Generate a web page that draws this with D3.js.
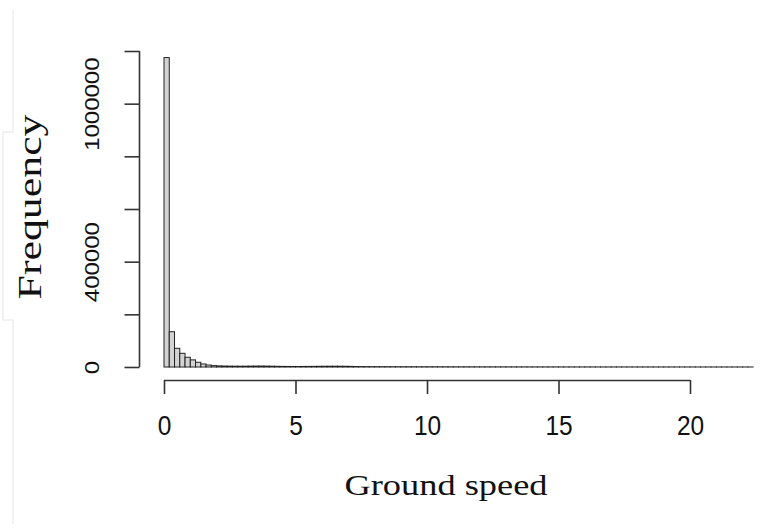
<!DOCTYPE html>
<html>
<head>
<meta charset="utf-8">
<script src="https://cdn.jsdelivr.net/npm/d3@7"></script>
<style>
  html, body { margin: 0; padding: 0; background: #fff; }
  svg { display: block; }
</style>
</head>
<body>
<svg id="chart" width="767" height="529"></svg>
<script>
// ---- data ----
const binWidth = 0.2;
const binStarts = d3.range(0, 112).map(i => +(i * binWidth).toFixed(1));
const counts = [
  1175000, 134000, 71000, 52000, 37000, 27000, 18000, 11500, 7500, 5200,
  4200, 3600, 3200, 3000, 3000, 3100, 3300, 3500, 3600, 3400,
  3000, 2600, 2300, 2100, 2000, 2000, 2100, 2200, 2400, 2600,
  2800, 2900, 3000, 2900, 2700, 2300, 1900, 1600, 1400, 1300,
  1200, 1150, 1100, 1050, 1000, 980, 950, 920, 900, 880,
  850, 820, 800, 780, 750, 720, 700, 680, 650, 620,
  600, 580, 560, 540, 520, 500, 480, 460, 440, 420,
  400, 390, 380, 370, 360, 350, 340, 330, 320, 310,
  300, 290, 280, 270, 260, 250, 240, 230, 220, 210,
  200, 195, 190, 185, 180, 175, 170, 165, 160, 155,
  150, 145, 140, 135, 130, 125, 120, 115, 110, 105,
  100, 100
];
const xTicks = [0, 5, 10, 15, 20];
const xTickLabels = ["0", "5", "10", "15", "20"];
const yTicks = [0, 200000, 400000, 600000, 800000, 1000000, 1200000];
const yTickLabels = ["0", "", "400000", "", "", "1000000", ""];
const xTitle = "Ground speed";
const yTitle = "Frequency";

// ---- layout ----
const svg = d3.select("#chart");
const x = d3.scaleLinear().domain([0, 20]).range([164, 690]);
const y = d3.scaleLinear().domain([0, 1200000]).range([367, 51]);

// faint background frame artifact
svg.append("path")
  .attr("d", "M13,10V132H3V320H13V524")
  .attr("fill", "none")
  .attr("stroke", "#e4e4e4")
  .attr("stroke-width", 1);

// bars
svg.append("g").selectAll("rect")
  .data(counts.map((c, i) => ({ x0: binStarts[i], c })))
  .join("rect")
  .attr("x", d => x(d.x0))
  .attr("y", d => y(d.c))
  .attr("width", d => x(d.x0 + binWidth) - x(d.x0))
  .attr("height", d => y(0) - y(d.c))
  .attr("fill", "#d3d3d3")
  .attr("stroke", "#222")
  .attr("stroke-width", 1);

// x axis
const xAxis = d3.axisBottom(x).tickValues(xTicks).tickSize(14).tickFormat(() => "");
const gx = svg.append("g").attr("transform", "translate(0,380)").call(xAxis);
gx.select(".domain").attr("stroke", "#333").attr("stroke-width", 1.6).attr("d", `M${x(0)},0.5H${x(20)}`);
gx.selectAll(".tick line").attr("stroke", "#333").attr("stroke-width", 1.6);
gx.selectAll(".tick").append("text")
  .attr("fill", "#111")
  .attr("text-anchor", "middle")
  .attr("font-family", "Liberation Sans, Arial, sans-serif")
  .attr("font-size", 24.5)
  .attr("transform", "translate(0,55) scale(1,1.15)")
  .text((d, i) => xTickLabels[i]);

// y axis
const yAxis = d3.axisLeft(y).tickValues(yTicks).tickSize(15).tickFormat(() => "");
const gy = svg.append("g").attr("transform", "translate(139.5,0)").call(yAxis);
gy.select(".domain").attr("stroke", "#333").attr("stroke-width", 1.6).attr("d", `M0,${y(0)}V${y(1200000)}`);
gy.selectAll(".tick line").attr("stroke", "#333").attr("stroke-width", 1.6);
gy.selectAll(".tick").append("text")
  .attr("fill", "#111")
  .attr("text-anchor", "middle")
  .attr("font-family", "Liberation Sans, Arial, sans-serif")
  .attr("font-size", 19.5)
  .attr("transform", "translate(-40.5,0) scale(1,1.23) rotate(-90)")
  .text((d, i) => yTickLabels[i]);

// axis titles
svg.append("text")
  .attr("x", 446).attr("y", 495)
  .attr("text-anchor", "middle")
  .attr("font-family", "Liberation Serif, Times New Roman, serif")
  .attr("font-size", 30)
  .attr("fill", "#111")
  .attr("textLength", 203)
  .attr("lengthAdjust", "spacingAndGlyphs")
  .text(xTitle);

svg.append("text")
  .attr("transform", "translate(41,207) rotate(-90)")
  .attr("text-anchor", "middle")
  .attr("font-family", "Liberation Serif, Times New Roman, serif")
  .attr("font-size", 33)
  .attr("fill", "#111")
  .attr("textLength", 185)
  .attr("lengthAdjust", "spacingAndGlyphs")
  .text(yTitle);
</script>
</body>
</html>
